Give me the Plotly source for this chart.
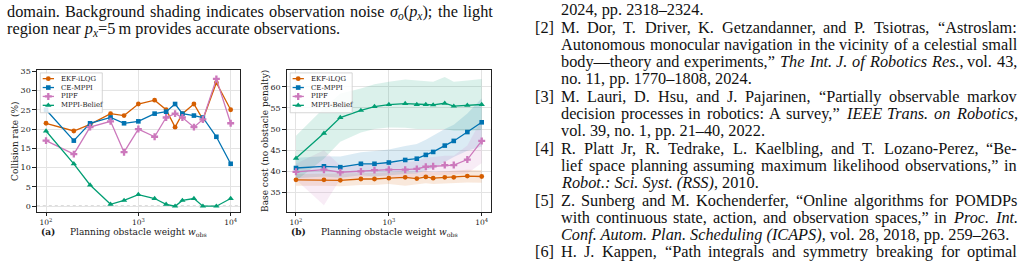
import re
import plotly.graph_objects as go

# ---------------- data ----------------
w_obs = [100, 200, 300, 500, 700, 1000, 1500, 2000, 2500, 3000, 4000, 5000, 7000, 10000]
methods = ["EKF-iLQG", "CE-MPPI", "PIPF", "MPPI-Belief"]

collision_ekf = [21.5, 19.5, 21.2, 24.0, 23.5, 26.5, 27.5, 25.0, 20.5, 24.0, 26.5, 22.5, 32.0, 25.0]
collision_ce = [25.0, 17.0, 21.5, 23.0, 21.5, 22.0, 24.0, 24.5, 26.5, 24.0, 23.5, 23.0, 18.0, 11.0]
collision_pipf = [17.0, 13.5, 20.5, 22.0, 14.0, 20.0, 18.0, 23.0, 24.0, 23.0, 20.5, 22.5, 33.0, 21.5]
collision_mppib = [19.5, 11.0, 5.5, 0.5, 1.5, 3.0, 2.0, 0.5, 0.0, 1.5, 2.0, 0.0, 0.0, 2.0]

base_ekf = [38.0, 38.0, 37.9, 38.2, 38.2, 38.4, 38.6, 38.3, 38.7, 38.4, 38.6, 38.6, 38.9, 38.8]
base_ce = [40.8, 41.2, 41.0, 41.8, 41.8, 42.1, 42.7, 43.0, 43.9, 44.6, 46.1, 47.2, 49.3, 51.6]
base_pipf = [39.9, 40.4, 39.8, 40.0, 40.3, 40.4, 40.4, 40.6, 41.1, 41.2, 41.5, 41.5, 42.8, 47.2]
base_mppib = [43.1, 49.0, 52.7, 54.4, 55.3, 55.8, 56.0, 55.8, 55.8, 55.7, 56.1, 55.4, 55.6, 55.8]

base_ekf_lo = [36.6, 36.6, 36.5, 36.8, 36.8, 37.0, 36.6, 37.0, 37.2, 37.0, 37.2, 37.2, 37.4, 37.3]
base_ekf_hi = [39.4, 39.5, 39.4, 39.6, 39.6, 39.8, 40.0, 39.7, 40.1, 39.8, 40.0, 40.0, 40.4, 40.3]
base_ce_lo = [38.4, 38.8, 38.5, 39.1, 38.8, 39.0, 39.4, 39.5, 40.3, 40.7, 42.2, 43.4, 44.9, 45.9]
base_ce_hi = [43.2, 43.6, 43.5, 44.5, 44.8, 45.2, 46.0, 46.5, 47.5, 48.5, 50.0, 51.0, 53.7, 57.3]
base_pipf_lo = [38.0, 32.0, 38.2, 38.5, 38.8, 38.8, 38.5, 38.8, 39.0, 39.0, 39.3, 39.3, 39.5, 42.0]
base_pipf_hi = [41.8, 45.0, 41.4, 41.5, 41.8, 42.0, 42.3, 42.4, 43.2, 43.4, 43.7, 43.7, 46.1, 52.4]
base_mppib_lo = [37.8, 43.0, 47.0, 49.2, 50.0, 50.4, 50.3, 50.0, 50.0, 50.0, 50.0, 49.6, 49.6, 49.8]
base_mppib_hi = [48.4, 55.0, 58.4, 59.6, 60.6, 61.2, 61.7, 61.5, 61.4, 61.2, 62.3, 61.2, 61.5, 61.8]

x_tickvals = [100, 1000, 10000]
x_ticktext = ["10<sup>2</sup>", "10<sup>3</sup>", "10<sup>4</sup>"]
x_minorvals = [80, 90, 200, 300, 400, 500, 600, 700, 800, 900,
               2000, 3000, 4000, 5000, 6000, 7000, 8000, 9000]
ya_ticks = [0, 5, 10, 15, 20, 25, 30, 35]
yb_ticks = [35, 40, 45, 50, 55, 60]

# (text, justified?)
caption_lines = [
    ("domain. Background shading indicates observation noise <i>σ<sub>o</sub></i>(<i>p<sub>x</sub></i>); the light", True),
    ("region near <i>p<sub>x</sub></i>=5\u2009m provides accurate observations.", False),
]
ref_lines = [
    ("", "2024, pp. 2318–2324.", False),
    ("[2]", "M. Dor, T. Driver, K. Getzandanner, and P. Tsiotras, “Astroslam:", True),
    ("", "Autonomous monocular navigation in the vicinity of a celestial small", True),
    ("", "body—theory and experiments,” <i>The Int. J. of Robotics Res.</i>, vol. 43,", True),
    ("", "no. 11, pp. 1770–1808, 2024.", False),
    ("[3]", "M. Lauri, D. Hsu, and J. Pajarinen, “Partially observable markov", True),
    ("", "decision processes in robotics: A survey,” <i>IEEE Trans. on Robotics</i>,", True),
    ("", "vol. 39, no. 1, pp. 21–40, 2022.", False),
    ("[4]", "R. Platt Jr, R. Tedrake, L. Kaelbling, and T. Lozano-Perez, “Be-", True),
    ("", "lief space planning assuming maximum likelihood observations,” in", True),
    ("", "<i>Robot.: Sci. Syst. (RSS)</i>, 2010.", False),
    ("[5]", "Z. Sunberg and M. Kochenderfer, “Online algorithms for POMDPs", True),
    ("", "with continuous state, action, and observation spaces,” in <i>Proc. Int.</i>", True),
    ("", "<i>Conf. Autom. Plan. Scheduling (ICAPS)</i>, vol. 28, 2018, pp. 259–263.", False),
    ("[6]", "H. J. Kappen, “Path integrals and symmetry breaking for optimal", True),
]

# ---------------- style ----------------
W, H = 1020, 266
colors = ["#d55e00", "#0173b2", "#cc78bc", "#029e73"]
symbols = ["circle", "square", "cross", "triangle-up"]
msizes = [4.8, 4.6, 5.8, 5.6]
CF = "DejaVu Serif"
PF = "Liberation Serif"
PAGE_SIZE = 16.3


def rgba(hexc, a):
    h = hexc.lstrip("#")
    return "rgba(%d,%d,%d,%s)" % (int(h[0:2], 16), int(h[2:4], 16), int(h[4:6], 16), a)


def px(x):
    return x / W


def py(y):
    return 1 - y / H


# --- approximate Times (Liberation Serif) advance widths, 1/1000 em ---
def _tbl(s):
    d = {}
    for tok in s.split():
        d[tok[0]] = int(tok[1:])
    return d


TR = _tbl("A722 B667 C667 D722 E611 F556 G722 H722 I333 J389 K722 L611 M889 N722 O722 "
          "P556 Q722 R667 S556 T611 U722 V722 W944 X722 Y722 Z611 "
          "a444 b500 c444 d500 e444 f333 g500 h500 i278 j278 k500 l278 m778 n500 o500 "
          "p500 q500 r333 s389 t278 u500 v500 w722 x500 y500 z444")
TI = _tbl("A611 B611 C667 D722 E611 F611 G722 H722 I333 J444 K667 L556 M833 N667 O722 "
          "P611 Q722 R611 S500 T556 U722 V611 W833 X611 Y556 Z556 "
          "a500 b500 c444 d500 e444 f278 g500 h500 i278 j278 k444 l278 m722 n500 o500 "
          "p500 q500 r389 s389 t278 u500 v444 w667 x444 y444 z389")
PUNCT = {".": 250, ",": 250, ":": 278, ";": 278, "-": 333, "–": 500, "—": 1000,
         "“": 444, "”": 444, "(": 333, ")": 333, "[": 333, "]": 333, "=": 564,
         "\u2009": 167, "σ": 540}
for d in "0123456789":
    PUNCT[d] = 500


def word_width(html, size, italic_start):
    """Approximate rendered width of one word given as html fragment."""
    italic = italic_start
    scale = 1.0
    total = 0.0
    for tok in re.split(r"(<[^>]+>)", html):
        if not tok:
            continue
        if tok.startswith("<"):
            t = tok.lower()
            if t == "<i>":
                italic = True
            elif t == "</i>":
                italic = False
            elif t in ("<sub>", "<sup>"):
                scale = 0.7
            elif t in ("</sub>", "</sup>"):
                scale = 1.0
            continue
        for ch in tok:
            tb = TI if italic else TR
            wv = tb.get(ch, PUNCT.get(ch, 500))
            if italic and ch == ":":
                wv = 333
            total += wv * scale
    return total / 1000.0 * size, italic


def split_words(html):
    """Split a line into self-contained html words, carrying italic state."""
    words = []
    italic = False
    for raw in html.split(" "):
        start_italic = italic
        _, italic = word_width(raw, 1.0, start_italic)
        frag = raw
        if start_italic:
            frag = "<i>" + frag
        if italic:
            frag = frag + "</i>"
        frag = frag.replace("<i></i>", "")
        words.append((frag, raw, start_italic))
    return words


def text_anno(x, y, text, font):
    return dict(x=px(x), y=py(y), xref="paper", yref="paper", text=text,
                showarrow=False, xanchor="left", yanchor="middle", font=font,
                borderpad=0, borderwidth=0)


def add_line(annos, html, x_left, x_right, y, justify, font):
    if not justify:
        annos.append(text_anno(x_left, y, html, font))
        return
    words = split_words(html)
    widths = [word_width(raw, font["size"], it)[0] for (_, raw, it) in words]
    gap = (x_right - x_left - sum(widths)) / max(len(words) - 1, 1)
    x = x_left
    for (frag, _, _), wv in zip(words, widths):
        annos.append(text_anno(x, y, frag, font))
        x += wv + gap


AX_TOP, AX_BOT = 68.0, 211.0
A_L, A_R = 36.8, 239.9
B_L, B_R = 286.7, 491.0

fig = go.Figure()

# ----- panel (a) -----
coll = [collision_ekf, collision_ce, collision_pipf, collision_mppib]
for i, m in enumerate(methods):
    fig.add_trace(go.Scatter(
        x=w_obs, y=coll[i], mode="lines+markers", name=m, showlegend=False,
        line=dict(color=colors[i], width=1.3),
        marker=dict(symbol=symbols[i], size=msizes[i], color=colors[i]),
        xaxis="x", yaxis="y", cliponaxis=False))

# ----- panel (b) -----
base = [base_ekf, base_ce, base_pipf, base_mppib]
lo = [base_ekf_lo, base_ce_lo, base_pipf_lo, base_mppib_lo]
hi = [base_ekf_hi, base_ce_hi, base_pipf_hi, base_mppib_hi]
for i, m in enumerate(methods):
    fig.add_trace(go.Scatter(
        x=w_obs + w_obs[::-1], y=hi[i] + lo[i][::-1], mode="lines", fill="toself",
        fillcolor=rgba(colors[i], 0.14), line=dict(width=0), hoverinfo="skip",
        showlegend=False, xaxis="x2", yaxis="y2"))
for i, m in enumerate(methods):
    fig.add_trace(go.Scatter(
        x=w_obs, y=base[i], mode="lines+markers", name=m, showlegend=False,
        line=dict(color=colors[i], width=1.3),
        marker=dict(symbol=symbols[i], size=msizes[i], color=colors[i]),
        xaxis="x2", yaxis="y2", cliponaxis=False))

# ----- custom legends (pixel overlay axis) -----
rows = [76.5, 85.5, 94.5, 103.5]
for lx in (40.3, 290.2):
    bx0, bx1, by0, by1 = lx, lx + 62, 70.7, 111.0
    fig.add_trace(go.Scatter(
        x=[bx0, bx1, bx1, bx0, bx0], y=[by0, by0, by1, by1, by0], mode="lines",
        fill="toself", fillcolor="rgba(255,255,255,0.85)",
        line=dict(color="#cccccc", width=0.8), hoverinfo="skip", showlegend=False,
        xaxis="x3", yaxis="y3"))
    for i, m in enumerate(methods):
        fig.add_trace(go.Scatter(
            x=[lx + 2.4, lx + 8.0, lx + 13.7], y=[rows[i]] * 3, mode="lines",
            line=dict(color=colors[i], width=1.3), hoverinfo="skip", showlegend=False,
            xaxis="x3", yaxis="y3"))
        fig.add_trace(go.Scatter(
            x=[lx + 8.0], y=[rows[i]], mode="markers",
            marker=dict(symbol=symbols[i], size=msizes[i], color=colors[i]),
            hoverinfo="skip", showlegend=False, xaxis="x3", yaxis="y3"))

annotations = []
for lx in (40.3, 290.2):
    for i, m in enumerate(methods):
        annotations.append(dict(
            x=px(lx + 18.5), y=py(rows[i]), xref="paper", yref="paper", text=m,
            showarrow=False, xanchor="left", yanchor="middle",
            font=dict(family=CF, size=6.9, color="#1a1a1a")))

# axis labels
label_font = dict(family=CF, size=9, color="#1a1a1a")
mid_y = (AX_TOP + AX_BOT) / 2
lab = [
    dict(x=px(15), y=py(mid_y), text="Collision rate (%)", textangle=-90),
    dict(x=px(265), y=py(mid_y), text="Base cost (no obstacle penalty)", textangle=-90),
    dict(x=px((A_L + A_R) / 2), y=py(232), text="Planning obstacle weight <i>w</i><sub>obs</sub>"),
    dict(x=px((B_L + B_R) / 2 + 0.5), y=py(232), text="Planning obstacle weight <i>w</i><sub>obs</sub>"),
    dict(x=px(47.5), y=py(232), text="<b>(a)</b>"),
    dict(x=px(298), y=py(232), text="<b>(b)</b>"),
]
for a in lab:
    a.update(xref="paper", yref="paper", showarrow=False, xanchor="center",
             yanchor="middle", font=label_font)
annotations += lab

# page text
page_font = dict(family=PF, size=PAGE_SIZE, color="#111111")
for k, (t, just) in enumerate(caption_lines):
    add_line(annotations, t, 7.0, 493.0, 9.0 + 17.8 * k, just, page_font)
for k, (num, t, just) in enumerate(ref_lines):
    yy = 6.8 + 17.5 * k
    if num:
        annotations.append(text_anno(535, yy, num, page_font))
    add_line(annotations, t, 561.0, 1017.0, yy, just, page_font)

# zero reference line in (a)
shapes = [dict(type="line", xref="paper", yref="y", x0=px(A_L), x1=px(A_R), y0=0, y1=0,
               line=dict(color="#808080", width=1, dash="dot"), layer="below")]

TICKC = "#222222"


def yaxis_cfg(domain, anchor, rng, tickvals):
    return dict(
        domain=domain, anchor=anchor, range=rng, tickmode="array", tickvals=tickvals,
        showline=True, mirror=True, linecolor=TICKC, linewidth=0.9,
        ticks="outside", ticklen=3.5, tickwidth=0.8, tickcolor=TICKC,
        showgrid=True, gridcolor="#e3e3e3", gridwidth=0.8, zeroline=False,
        tickfont=dict(family=CF, size=8, color="#1a1a1a"), fixedrange=True)


def xaxis_cfg(domain, anchor):
    return dict(
        domain=domain, anchor=anchor, type="log", range=[1.9, 4.1],
        tickmode="array", tickvals=x_tickvals, ticktext=x_ticktext,
        showline=True, mirror=True, linecolor=TICKC, linewidth=0.9,
        ticks="outside", ticklen=3.5, tickwidth=0.8, tickcolor=TICKC,
        showgrid=True, gridcolor="#e3e3e3", gridwidth=0.8, zeroline=False,
        tickfont=dict(family=CF, size=7.5, color="#1a1a1a"), fixedrange=True)


def minor_cfg(overlay, anchor):
    return dict(
        overlaying=overlay, anchor=anchor, side="bottom", type="log", range=[1.9, 4.1],
        tickmode="array", tickvals=x_minorvals,
        showline=False, ticks="outside", ticklen=2, tickwidth=0.6, tickcolor=TICKC,
        showgrid=False, zeroline=False, showticklabels=False, fixedrange=True)


fig.update_layout(
    width=W, height=H, margin=dict(l=0, r=0, t=0, b=0),
    paper_bgcolor="white", plot_bgcolor="rgba(0,0,0,0)", showlegend=False,
    xaxis=xaxis_cfg([px(A_L), px(A_R)], "y"),
    yaxis=yaxis_cfg([py(AX_BOT), py(AX_TOP)], "x", [-1.4, 35.25], ya_ticks),
    xaxis2=xaxis_cfg([px(B_L), px(B_R)], "y2"),
    yaxis2=yaxis_cfg([py(AX_BOT), py(AX_TOP)], "x2", [30.5, 63.9], yb_ticks),
    xaxis3=dict(domain=[0, 1], range=[0, W], visible=False, fixedrange=True, anchor="y3"),
    yaxis3=dict(domain=[0, 1], range=[H, 0], visible=False, fixedrange=True, anchor="x3"),
    xaxis4=minor_cfg("x", "y"),
    xaxis5=minor_cfg("x2", "y2"),
    annotations=annotations, shapes=shapes,
)

fig.write_html("out.html")
